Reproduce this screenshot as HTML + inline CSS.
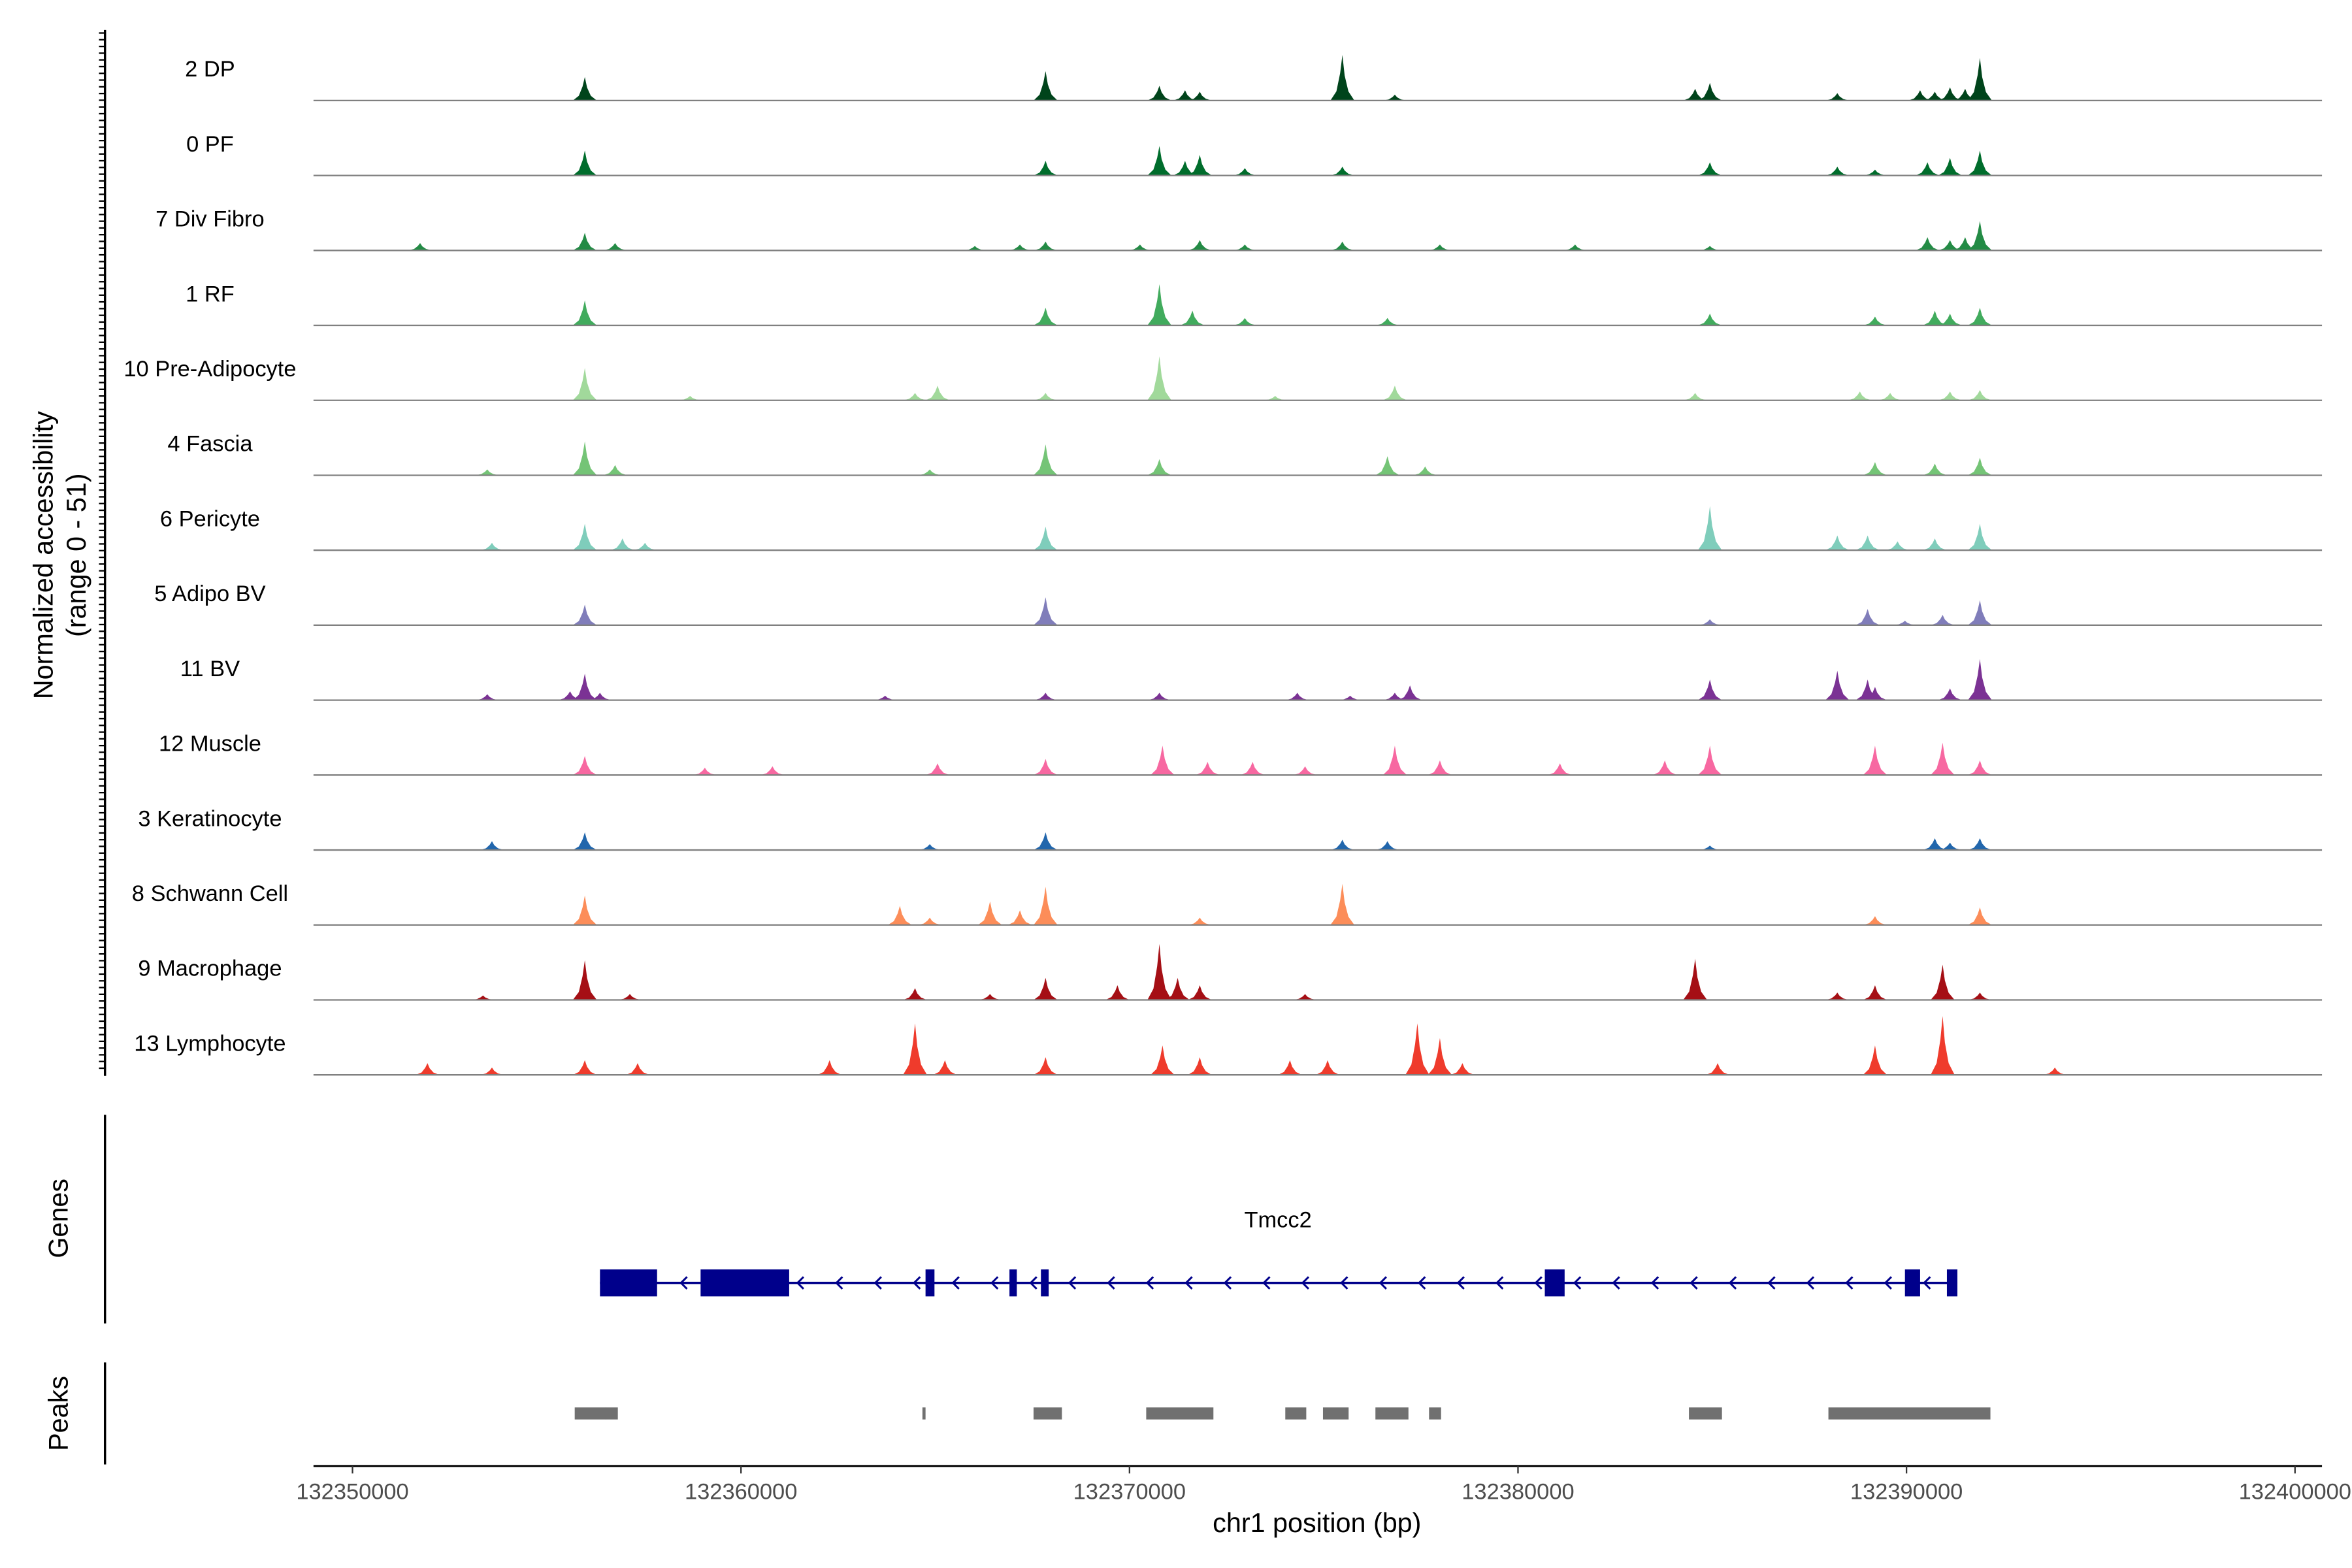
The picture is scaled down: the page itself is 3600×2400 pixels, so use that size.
<!DOCTYPE html>
<html><head><meta charset="utf-8"><style>
html,body{margin:0;padding:0;background:#fff}
svg{display:block;font-family:"Liberation Sans",sans-serif}
</style></head><body>
<svg id="chart" width="3600" height="2400" viewBox="0 0 1568 1045" preserveAspectRatio="none" xmlns="http://www.w3.org/2000/svg">
<rect width="1568" height="1045" fill="#fff"/>
<g id="tracks"></g>
<g id="left-axis"></g>
<text transform="translate(35,370) rotate(-90)" text-anchor="middle" font-size="18" fill="#000">Normalized accessibility</text>
<text transform="translate(57,370) rotate(-90)" text-anchor="middle" font-size="18" fill="#000">(range 0 - 51)</text>
<g id="genes"></g>
<g id="peaks"></g>
<g id="xaxis"></g>
<text x="878" y="1021" text-anchor="middle" font-size="18" fill="#000">chr1 position (bp)</text>
</svg>
<script>
const START = 132350000;
const END = 132400000;
const xTicks = [132350000,132360000,132370000,132380000,132390000,132400000];
const trackNames = ["2 DP","0 PF","7 Div Fibro","1 RF","10 Pre-Adipocyte","4 Fascia","6 Pericyte","5 Adipo BV","11 BV","12 Muscle","3 Keratinocyte","8 Schwann Cell","9 Macrophage","13 Lymphocyte"];
const trackColors = ["#00441b","#006d2c","#238b45","#41ab5d","#a1d99b","#74c476","#7fcdbb","#807dba","#7b3294","#f768a1","#2166ac","#fc8d59","#a50f15","#ef3b2c"];
// peak positions in kb from 132350000, heights in normalized units
const peakPos = [
 [5.98,17.84,20.77,21.43,21.81,25.48,26.83,34.56,34.94,38.22,40.35,40.73,41.12,41.51,41.89],
 [5.98,17.84,20.77,21.43,21.81,22.97,25.48,34.94,38.22,39.19,40.54,41.12,41.89],
 [1.74,5.98,6.76,16.02,17.18,17.84,20.27,21.81,22.97,25.48,27.99,31.47,34.94,40.54,41.12,41.51,41.89],
 [5.98,17.84,20.77,21.62,22.97,26.64,34.94,39.19,40.73,41.12,41.89],
 [5.98,8.69,14.48,15.06,17.84,20.77,23.75,26.83,34.56,38.80,39.58,41.12,41.89],
 [3.47,5.98,6.76,14.86,17.84,20.77,26.64,27.61,39.19,40.73,41.89],
 [3.59,5.98,6.95,7.53,17.84,34.94,38.22,39.00,39.77,40.73,41.89],
 [5.98,17.84,34.94,39.00,39.96,40.93,41.89],
 [3.47,5.60,5.98,6.37,13.71,17.84,20.77,24.32,25.68,26.83,27.22,34.94,38.22,39.00,39.19,41.12,41.89],
 [5.98,9.07,10.81,15.06,17.84,20.85,22.01,23.17,24.52,26.83,27.99,31.08,33.78,34.94,39.19,40.93,41.89],
 [3.59,5.98,14.86,17.84,25.48,26.64,34.94,40.73,41.12,41.89],
 [5.98,14.09,14.86,16.41,17.18,17.84,21.81,25.48,39.19,41.89],
 [3.36,5.98,7.14,14.48,16.41,17.84,19.69,20.77,21.24,21.81,24.52,34.56,38.22,39.19,40.93,41.89],
 [1.93,3.59,5.98,7.34,12.28,14.48,15.25,17.84,20.85,21.81,24.13,25.10,27.41,27.99,28.57,35.14,39.19,40.93,43.82]
];
const peakVal = [
 [16,20,10,7,6,31,4,8,12,5,7,6,9,8,29],
 [17,10,20,10,14,5,6,9,6,4,9,12,17],
 [5,12,5,3,4,6,4,7,4,6,4,4,3,9,7,9,20],
 [17,12,28,10,5,5,8,6,10,8,12],
 [22,3,5,10,5,30,3,10,5,6,5,6,7],
 [4,23,7,4,21,11,13,6,9,8,12],
 [5,18,8,5,16,30,10,10,6,8,18],
 [14,19,4,11,3,7,17],
 [4,6,18,5,3,5,5,5,3,5,10,14,20,14,9,8,28],
 [13,5,6,8,11,20,9,9,6,20,10,8,10,20,20,22,10],
 [6,12,4,12,7,6,3,8,5,8],
 [20,13,5,16,10,26,5,28,6,12],
 [3,27,4,8,4,15,10,38,15,10,4,28,5,10,24,5],
 [8,5,10,8,10,35,10,12,20,12,10,10,35,25,8,8,20,40,5]
];
const geneExonStart = [6.37,8.96,14.75,16.91,17.72,30.69,39.96,41.04];
const geneExonEnd   = [7.84,11.24,14.98,17.10,17.92,31.20,40.35,41.31];
const peakStart = [5.72,6.52,14.67,17.53,20.43,24.01,24.98,26.33,27.71,34.40,37.99];
const peakEnd   = [6.53,6.83,14.75,18.26,22.16,24.55,25.64,27.18,28.02,35.25,42.16];

const NS="http://www.w3.org/2000/svg";
const X0=235, X1=1530;
function xs(bp){return X0+(bp-START)/(END-START)*(X1-X0);}
function xk(kb){return xs(START+kb*1000);}
function ys(v){return v*50/51;}
function mk(tag,attrs,parent){const e=document.createElementNS(NS,tag);for(const k in attrs)e.setAttribute(k,attrs[k]);parent.appendChild(e);return e;}

const tracks=document.getElementById('tracks');
trackNames.forEach((name,i)=>{
  const base=67+i*49.95;
  const g=mk('g',{},tracks);
  
  
  const lab=mk('text',{x:140,y:base-16,'text-anchor':'middle','font-size':15,fill:'#000'},g);
  lab.textContent=name;
  
  
  let d='';
  peakPos[i].forEach((p,j)=>{
    const x=xk(p),h=ys(peakVal[i][j]);
    d+=`M${x-8},${base} L${x-4},${base-h*0.2} L${x-1.5},${base-h*0.6} L${x},${base-h} L${x+1.5},${base-h*0.55} L${x+4},${base-h*0.2} L${x+8},${base} Z `;
  });
  const pa=mk('path',{d:d,fill:trackColors[i]},g);
  
  
  const bl=mk('line',{x1:209,x2:1548,y1:base,y2:base,stroke:'#808080','stroke-width':1},g);
  
  
});

const la=document.getElementById('left-axis');
mk('line',{x1:70,x2:70,y1:20,y2:717,stroke:'#000','stroke-width':1.5},la);
for(let y=22;y<=716;y+=4.48){mk('line',{x1:66,x2:70,y1:y,y2:y,stroke:'#000','stroke-width':1},la);}

const gn=document.getElementById('genes');
mk('line',{x1:70,x2:70,y1:743,y2:882,stroke:'#000','stroke-width':1.5},gn);
const gt=mk('text',{transform:'translate(45,812) rotate(-90)','text-anchor':'middle','font-size':18},gn);
gt.textContent='Genes';


const gname=mk('text',{x:852,y:818,'text-anchor':'middle','font-size':15},gn);
gname.textContent='Tmcc2';


mk('line',{x1:xk(geneExonStart[0]),x2:xk(geneExonEnd[geneExonEnd.length-1]),y1:855,y2:855,stroke:'#00008b','stroke-width':1.5},gn);
for(let x=455;x<1300;x+=25.9){mk('polyline',{points:`${x+3},851 ${x-1},855 ${x+3},859`,fill:'none',stroke:'#00008b','stroke-width':1.3},gn);}
geneExonStart.forEach((s,i)=>{
  const r=mk('rect',{x:xk(s),y:846,width:xk(geneExonEnd[i])-xk(s),height:18,fill:'#00008b'},gn);
  
  
});

const pk=document.getElementById('peaks');
mk('line',{x1:70,x2:70,y1:908,y2:976,stroke:'#000','stroke-width':1.5},pk);
const pt=mk('text',{transform:'translate(45,942) rotate(-90)','text-anchor':'middle','font-size':18},pk);
pt.textContent='Peaks';


peakStart.forEach((s,i)=>{
  const r=mk('rect',{x:xk(s),y:938,width:Math.max(1.5,xk(peakEnd[i])-xk(s)),height:8,fill:'#707070'},pk);
  
  
});

const xa=document.getElementById('xaxis');
mk('line',{x1:209,x2:1548,y1:977,y2:977,stroke:'#000','stroke-width':1.3},xa);
xTicks.forEach(t=>{
  const x=xs(t);
  mk('line',{x1:x,x2:x,y1:977,y2:982,stroke:'#333','stroke-width':1},xa);
  const tx=mk('text',{x:x,y:999,'text-anchor':'middle','font-size':15,fill:'#4d4d4d'},xa);
  tx.textContent=String(t);
  
  
});
</script>
</body></html>
